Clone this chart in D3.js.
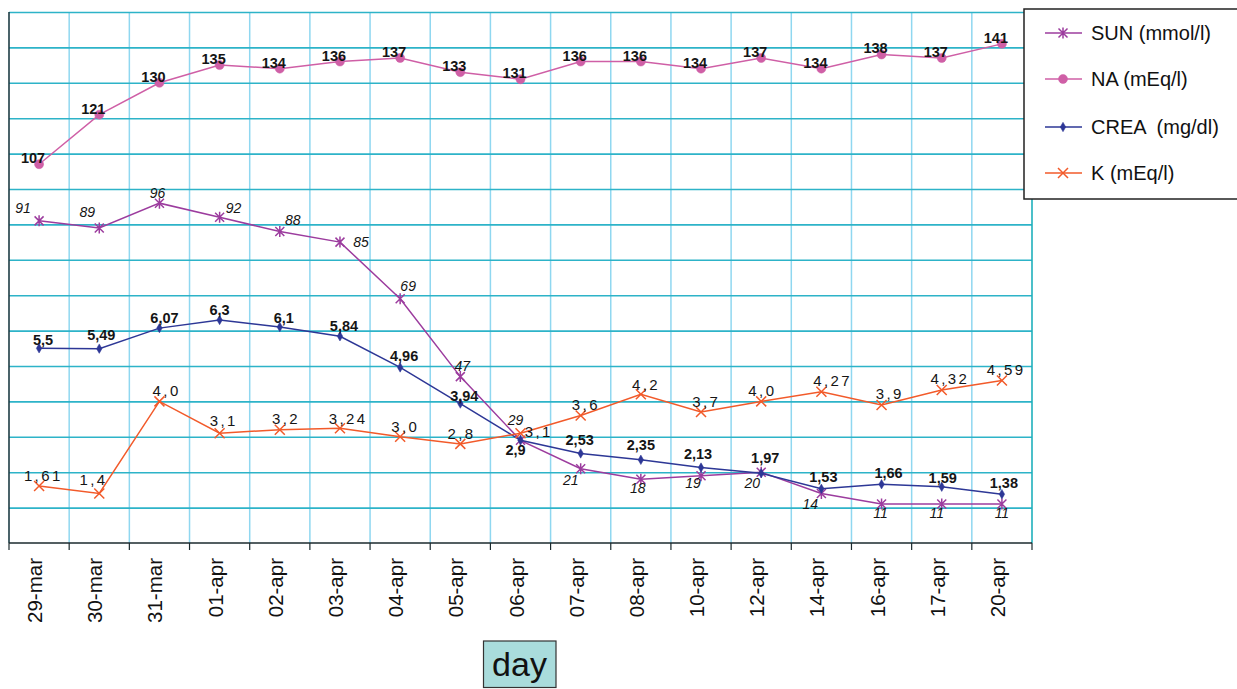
<!DOCTYPE html>
<html>
<head>
<meta charset="utf-8">
<script src="https://cdn.jsdelivr.net/npm/d3@7"></script>
<style>
  html, body { margin: 0; padding: 0; background: #fff; }
  svg { display: block; font-family: "Liberation Sans", Arial, Helvetica, sans-serif; }
  .legend-label { white-space: pre; }
</style>
</head>
<body>
<svg id="chart" width="1237" height="689"></svg>
<script>
// Days of the hospital stay
const categories = ["29-mar","30-mar","31-mar","01-apr","02-apr","03-apr","04-apr","05-apr","06-apr",
                    "07-apr","08-apr","10-apr","12-apr","14-apr","16-apr","17-apr","20-apr"];

// Left (primary) axis series
const sun = [91, 89, 96, 92, 88, 85, 69, 47, 29, 21, 18, 19, 20, 14, 11, 11, 11];
const na  = [107, 121, 130, 135, 134, 136, 137, 133, 131, 136, 136, 134, 137, 134, 138, 137, 141];

// Right (secondary) axis series
const crea = [5.5, 5.49, 6.07, 6.3, 6.1, 5.84, 4.96, 3.94, 2.9, 2.53, 2.35, 2.13, 1.97, 1.53, 1.66, 1.59, 1.38];
const k    = [1.61, 1.4, 4.0, 3.1, 3.2, 3.24, 3.0, 2.8, 3.1, 3.6, 4.2, 3.7, 4.0, 4.27, 3.9, 4.32, 4.59];

const seriesNames = ["SUN (mmol/l)", "NA (mEq/l)", "CREA  (mg/dl)", "K (mEq/l)"];
const axisTitle = "day";

// Label placement relative to each point: [dx to label centre, dy to baseline]
const sunLabelOffsets = [[-16,-8],[-12,-11],[-2,-5],[14,-4],[13,-6],[21,5],[8,-8],[2,-6],[-5,-15],
                         [-10,16],[-3,14],[-8,12],[-9,16],[-11,16],[-1,14],[-5,14],[0,14]];
const naLabelOffsets = categories.map(() => [-6, -1]);
const creaLabelOffsets = [[4,-3],[2,-9],[5,-5],[0,-5],[4,-4],[4,-5],[4,-6],[4,-3],[-5,15],
                          [-1,-8],[0,-10],[-3,-9],[4,-10],[2,-7],[7,-6],[1,-4],[2,-6]];
const kLabelOffsets = [[3,-5],[-7,-8],[6,-5],[3,-7],[5,-6],[7,-4],[4,-5],[0,-5],[17,4],
                       [4,-6],[4,-4],[4,-5],[0,-5],[10,-6],[7,-6],[7,-6],[3,-6]];

const svg = d3.select("#chart");
const plotLeft = 9, plotRight = 1032, plotTop = 12, plotBottom = 543;

const x = d3.scaleBand().domain(categories).range([plotLeft, plotRight]);
const yL = d3.scaleLinear().domain([0, 150]).range([plotBottom, plotTop]);
const yR = d3.scaleLinear().domain([0, 15]).range([plotBottom, plotTop]);
const cx = c => x(c) + x.bandwidth() / 2;

const comma = v => String(v).replace(".", ",");
const commaOneDec = v => (Number.isInteger(v) ? v.toFixed(1) : String(v)).replace(".", ",");

// Vertical grid at band boundaries
const boundaries = d3.range(categories.length + 1).map(i => plotLeft + i * x.step());
svg.append("g").selectAll("line")
  .data(boundaries.slice(1, -1))
  .join("line")
  .attr("x1", d => d).attr("x2", d => d)
  .attr("y1", plotTop).attr("y2", plotBottom)
  .attr("stroke", "#8fd7f0").attr("stroke-width", 1.5);

// Horizontal grid from the primary axis ticks
const gridY = svg.append("g")
  .attr("transform", `translate(${plotLeft},0)`)
  .call(d3.axisLeft(yL).ticks(15).tickSize(-(plotRight - plotLeft)).tickFormat(""));
gridY.select(".domain").remove();
gridY.selectAll(".tick line").attr("stroke", "#2db3c8").attr("stroke-width", 1.6);
gridY.selectAll(".tick").filter(d => d === 0).remove();

// Plot frame: right edge
svg.append("line").attr("x1", plotRight).attr("x2", plotRight).attr("y1", plotTop).attr("y2", plotBottom)
  .attr("stroke", "#1fb0bc").attr("stroke-width", 1.6);
// Left axis line
svg.append("line").attr("x1", plotLeft).attr("x2", plotLeft).attr("y1", plotTop).attr("y2", plotBottom)
  .attr("stroke", "#1d3c44").attr("stroke-width", 1.6);

// Category axis with ticks on band boundaries
const xAxis = svg.append("g").attr("transform", `translate(0,${plotBottom})`);
xAxis.append("line").attr("x1", plotLeft).attr("x2", plotRight).attr("y1", 0).attr("y2", 0)
  .attr("stroke", "#1b2a2e").attr("stroke-width", 1.6);
xAxis.selectAll("line.tick").data(boundaries).join("line")
  .attr("class", "tick")
  .attr("x1", d => d).attr("x2", d => d).attr("y1", 0).attr("y2", 7)
  .attr("stroke", "#1b2a2e").attr("stroke-width", 1.2);
xAxis.selectAll("text").data(categories).join("text")
  .attr("transform", d => `translate(${cx(d) + 3},15) rotate(-90)`)
  .attr("text-anchor", "end")
  .attr("font-size", 20.5)
  .attr("fill", "#111")
  .text(d => d);

// Axis title box
const titleG = svg.append("g");
titleG.append("rect").attr("x", 483.5).attr("y", 641).attr("width", 72.5).attr("height", 46.5)
  .attr("fill", "#a9dcdc").attr("stroke", "#333").attr("stroke-width", 1.2);
titleG.append("text").attr("x", 519.5).attr("y", 676).attr("text-anchor", "middle")
  .attr("font-size", 34).attr("fill", "#111").text(axisTitle);

// Marker shapes
const markerPaths = {
  star: "M-4.5,-4.5L4.5,4.5M-4.5,4.5L4.5,-4.5M0,-5.5L0,5.5",
  circle: d3.symbol(d3.symbolCircle, 64)(),
  diamond: d3.symbol(d3.symbolDiamond, 26)(),
  cross: "M-5,-5L5,5M-5,5L5,-5"
};

const series = [
  { name: seriesNames[0], values: sun,  y: yL, color: "#9c3c9e", marker: "star",    filled: false,
    offsets: sunLabelOffsets, fmt: comma, font: { style: "italic", weight: "normal", size: 14 }, spacing: 0 },
  { name: seriesNames[1], values: na,   y: yL, color: "#cf5fa6", marker: "circle",  filled: true,
    offsets: naLabelOffsets, fmt: comma, font: { style: "normal", weight: "bold", size: 14.5 }, spacing: 0 },
  { name: seriesNames[2], values: crea, y: yR, color: "#2d3796", marker: "diamond", filled: true,
    offsets: creaLabelOffsets, fmt: comma, font: { style: "normal", weight: "bold", size: 14.5 }, spacing: 0 },
  { name: seriesNames[3], values: k,    y: yR, color: "#f25a2a", marker: "cross",   filled: false,
    offsets: kLabelOffsets, fmt: commaOneDec, font: { style: "normal", weight: "normal", size: 15 }, spacing: 2.4 }
];

const line = (s) => d3.line().x((d, i) => cx(categories[i])).y(d => s.y(d));

series.forEach(s => {
  const g = svg.append("g");
  g.append("path").datum(s.values)
    .attr("d", line(s))
    .attr("fill", "none").attr("stroke", s.color).attr("stroke-width", 1.5);
  g.selectAll("path.m").data(s.values).join("path")
    .attr("class", "m")
    .attr("transform", (d, i) => `translate(${cx(categories[i])},${s.y(d)})`)
    .attr("d", markerPaths[s.marker])
    .attr("fill", s.filled ? s.color : "none")
    .attr("stroke", s.color).attr("stroke-width", s.filled ? 0.5 : 1.5);
});

// Data labels drawn above all lines
series.forEach(s => {
  svg.append("g").selectAll("text").data(s.values).join("text")
    .attr("x", (d, i) => cx(categories[i]) + s.offsets[i][0] + s.spacing / 2)
    .attr("y", (d, i) => s.y(d) + s.offsets[i][1])
    .attr("text-anchor", "middle")
    .attr("font-size", s.font.size)
    .attr("font-style", s.font.style)
    .attr("font-weight", s.font.weight)
    .attr("letter-spacing", s.spacing)
    .attr("fill", "#151515")
    .text(d => s.fmt(d));
});

// Legend
const legend = svg.append("g");
legend.append("rect").attr("x", 1024).attr("y", 9).attr("width", 230).attr("height", 190)
  .attr("fill", "#fff").attr("stroke", "#222").attr("stroke-width", 1.5);
const rowY = [33, 79, 127, 173];
series.forEach((s, i) => {
  const r = legend.append("g").attr("transform", `translate(0,${rowY[i]})`);
  r.append("line").attr("x1", 1045).attr("x2", 1082).attr("y1", 0).attr("y2", 0)
    .attr("stroke", s.color).attr("stroke-width", 1.5);
  r.append("path").attr("transform", "translate(1063,0)")
    .attr("d", markerPaths[s.marker])
    .attr("fill", s.filled ? s.color : "none")
    .attr("stroke", s.color).attr("stroke-width", s.filled ? 0.5 : 1.5);
  r.append("text").attr("class", "legend-label")
    .attr("x", 1091).attr("y", 7).attr("font-size", 20)
    .attr("fill", "#111").text(s.name);
});
</script>
</body>
</html>
